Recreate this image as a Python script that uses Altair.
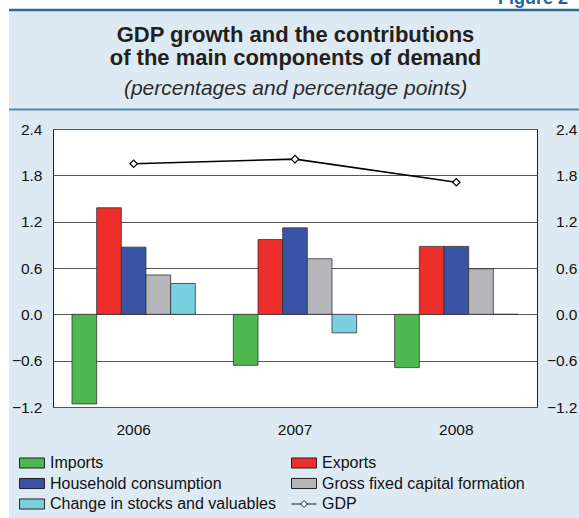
import altair as alt
import pandas as pd

years = ["2006", "2007", "2008"]
components = ["Imports", "Exports", "Household consumption",
              "Gross fixed capital formation", "Change in stocks and valuables"]
imports = [-1.16, -0.66, -0.69]
exports = [1.38, 0.97, 0.88]
household = [0.87, 1.12, 0.88]
gfcf = [0.51, 0.72, 0.59]
stocks = [0.40, -0.24, 0.0]
gdp = [1.95, 2.01, 1.71]

title_lines = ["GDP growth and the contributions", "of the main components of demand"]
subtitle = "(percentages and percentage points)"
figure_label = "Figure 2"

# legend order (column-major for a 2-column legend)
legend_items = ["Imports", "Household consumption", "Change in stocks and valuables",
                "Exports", "Gross fixed capital formation", "GDP"]
colors = ["#4cb84f", "#3a53a4", "#7ad0e1", "#ee2e2b", "#b5b6b9", "#ffffff"]
y_ticks = [-1.2, -0.6, 0.0, 0.6, 1.2, 1.8, 2.4]

series = [imports, exports, household, gfcf, stocks]
rows = []
for comp, vals in zip(components, series):
    for yr, v in zip(years, vals):
        rows.append({"year": yr, "component": comp, "value": v})
bars_df = pd.DataFrame(rows)
gdp_df = pd.DataFrame({"year": years, "gdp": gdp})
deco_df = pd.DataFrame({"k": [0]})

FONT = "Liberation Sans"
W, H = 484, 278

x_enc = alt.X("year:N", title=None, sort=years,
              scale=alt.Scale(paddingInner=0.2357, paddingOuter=0.11785),
              axis=alt.Axis(labelAngle=0, ticks=False, tickSize=0, domain=False,
                            labelFontSize=15.5, labelPadding=15, labelColor="#111"))
y_scale = alt.Scale(domain=[-1.2, 2.4], nice=False, zero=False)

sym_path = ("datum.value === 'GDP' ? "
            "'M-1,0H0.35M0.95,0H2.33M0.67,-0.45L1.12,0L0.67,0.45L0.22,0Z' : "
            "'M-1,-0.67H2.33V0.67H-1Z'")

bars = alt.Chart(bars_df).mark_bar(stroke="#333333", strokeWidth=0.8).encode(
    x=x_enc,
    xOffset=alt.XOffset("component:N", sort=components,
                        scale=alt.Scale(domain=components, paddingInner=0, paddingOuter=0)),
    y=alt.Y("value:Q", scale=y_scale, title=None,
            axis=alt.Axis(values=y_ticks, format=".1f", ticks=False, tickSize=0, domain=False,
                          grid=True, gridColor="#555555", gridWidth=1,
                          labelFontSize=15.5, labelPadding=11, labelColor="#111")),
    fill=alt.Fill("component:N",
                  scale=alt.Scale(domain=legend_items, range=colors),
                  legend=alt.Legend(
                      title=None, orient="none", legendX=-34, legendY=326,
                      columns=2, columnPadding=13, rowPadding=4.5,
                      symbolSize=225, labelFontSize=16, labelFont=FONT,
                      labelColor="#111", labelOffset=15, labelLimit=400,
                      padding=0, symbolType=alt.ExprRef(expr=sym_path),
                      symbolStrokeColor="#222222", symbolStrokeWidth=1,
                      symbolOpacity=1)),
)

gdp_line = alt.Chart(gdp_df).mark_line(color="black", strokeWidth=1.6).encode(
    x=alt.X("year:N", sort=years),
    y=alt.Y("gdp:Q", scale=y_scale, title=None,
            axis=alt.Axis(orient="right", values=y_ticks, format=".1f", ticks=False,
                          tickSize=0, domain=False, grid=False, labelFontSize=15.5,
                          labelPadding=40, labelAlign="right", labelColor="#111")),
)
gdp_pts = alt.Chart(gdp_df).mark_point(shape="diamond", filled=True, fill="white",
                                       stroke="black", strokeWidth=1.2, size=55,
                                       opacity=1).encode(
    x=alt.X("year:N", sort=years),
    y=alt.Y("gdp:Q", scale=y_scale),
)
gdp_layer = alt.layer(gdp_line, gdp_pts)

deco_base = alt.Chart(deco_df)
white_left = deco_base.mark_rect(color="white").encode(
    x=alt.value(-53), x2=alt.value(-44), y=alt.value(-129), y2=alt.value(389))
white_top = deco_base.mark_rect(color="white").encode(
    x=alt.value(-53), x2=alt.value(526), y=alt.value(-129), y2=alt.value(-120))
top_line = deco_base.mark_rule(color="#2a6d91", strokeWidth=2.5).encode(
    x=alt.value(-44), x2=alt.value(526), y=alt.value(-119))
sep_line = deco_base.mark_rule(color="#4a8cae", strokeWidth=2).encode(
    x=alt.value(-44), x2=alt.value(526), y=alt.value(-19.5))
fig_label = deco_base.mark_text(text=figure_label, align="left", baseline="alphabetic",
                                fontSize=18, fontWeight="bold", color="#1f6595",
                                font=FONT).encode(
    x=alt.value(445), y=alt.value(-125))
title1 = deco_base.mark_text(text=title_lines[0], align="center", baseline="alphabetic",
                             fontSize=22, fontWeight="bold", color="#231f20",
                             font=FONT).encode(x=alt.value(242.5), y=alt.value(-87.5))
title2 = deco_base.mark_text(text=title_lines[1], align="center", baseline="alphabetic",
                             fontSize=22, fontWeight="bold", color="#231f20",
                             font=FONT).encode(x=alt.value(242.5), y=alt.value(-64))
sub = deco_base.mark_text(text=subtitle, align="center", baseline="alphabetic",
                          fontSize=21, fontStyle="italic", color="#2b2b2b",
                          font=FONT).encode(x=alt.value(242.5), y=alt.value(-34))

chart = alt.layer(
    white_left, white_top, top_line, sep_line, fig_label, title1, title2, sub,
    bars, gdp_layer
).resolve_scale(y="independent").properties(
    width=W, height=H,
    autosize=alt.AutoSizeParams(type="none"),
    padding={"left": 53, "top": 129, "right": 42, "bottom": 111},
    background="#deeaf3",
).configure_view(
    fill="white", stroke="#222222", strokeWidth=1
).configure_axis(
    labelFont=FONT
)

chart.save("out.html", embed_options={"renderer": "svg", "actions": False})
